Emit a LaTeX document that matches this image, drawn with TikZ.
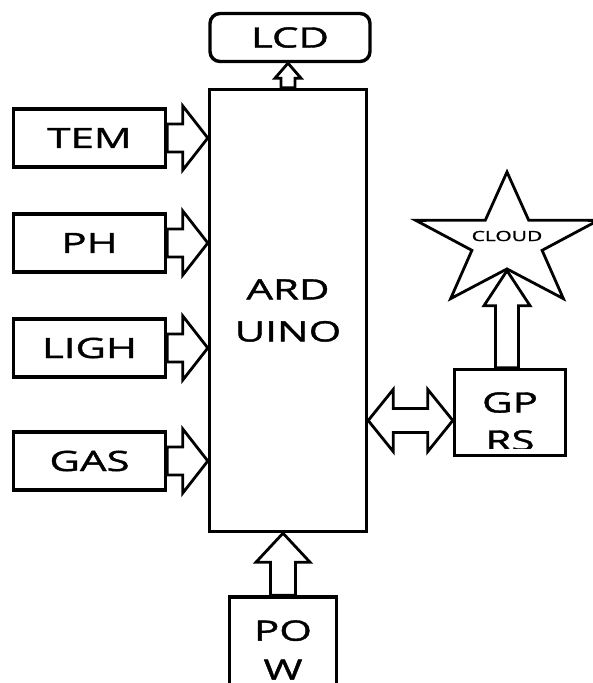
\documentclass[tikz,border=0pt]{standalone}
\usepackage{fontspec}
\setmainfont{Open Sans}[FakeStretch=1.5, FakeBold=1.4]
\usetikzlibrary{calc,shapes.geometric,backgrounds}

% block arrows: #1 base, #2 tip, #3 shaft half width, #4 head half width, #5 head length
\newcommand{\rightblock}[5]{%
  \draw[blk] ($(#1)+(0,-#3)$) -- ($(#2)+(-#5,-#3)$) -- ($(#2)+(-#5,-#4)$) -- (#2)
    -- ($(#2)+(-#5,#4)$) -- ($(#2)+(-#5,#3)$) -- ($(#1)+(0,#3)$) -- cycle;}
\newcommand{\upblock}[5]{%
  \draw[blk] ($(#1)+(-#3,0)$) -- ($(#2)+(-#3,#5)$) -- ($(#2)+(-#4,#5)$) -- (#2)
    -- ($(#2)+(#4,#5)$) -- ($(#2)+(#3,#5)$) -- ($(#1)+(#3,0)$) -- cycle;}

\begin{document}
\begin{tikzpicture}[
  x=1pt, y=-1pt,
  bigfont/.style={font=\fontsize{28}{42}\selectfont},
  sensor/.style={
    draw, line width=3.4pt, minimum width=152pt, minimum height=58pt,
    inner sep=0pt, bigfont
  },
  unit/.style={
    draw, line width=3.4pt, inner sep=0pt, align=center, bigfont
  },
  blk/.style={draw, fill=white, line width=2.8pt, line join=miter},
]
\useasboundingbox (0,0) rectangle (593,683);

%% Controller and display
\node[unit, minimum width=157pt, minimum height=442pt] (ard) at (288,310.5) {ARD\\UINO};
\node[unit, rounded corners=10pt, minimum width=160pt, minimum height=48pt] (lcd) at (290,37.5) {LCD};

%% Sensors on the left
\node[sensor] (tem)  at (89.5,138) {TEM};
\node[sensor] (ph)   at (89.5,243) {PH};
\node[sensor] (ligh) at (89.5,348) {LIGH};
\node[sensor] (gas)  at (89.5,461) {GAS};

%% Power supply (runs off the bottom edge)
\node[unit, minimum width=107pt, minimum height=106pt,
      font=\fontsize{28}{39}\selectfont] (pow) at (283,650) {PO\\W};

%% GPRS module, text clipped by the box
\node[unit, minimum width=111pt, minimum height=86pt] (gprs) at (510,412.5) {};
\begin{scope}
  \clip ($(gprs.north west)+(2,2)$) rectangle ($(gprs.south east)+(-2,-9)$);
  \node[align=center, font=\fontsize{28}{38}\selectfont] (gprstxt)
    at ($(gprs.center)+(0,9)$) {GP\\RS};
\end{scope}

%% Cloud star
\begin{scope}[shift={(507,242)}, xscale=1.37]
  \node[star, star points=5, star point ratio=2.6, minimum size=140pt,
        inner sep=0pt, draw, line width=2.8pt, transform shape] (cloud) {};
\end{scope}
\node[font=\fontsize{14}{16}\selectfont] (cloudtxt) at (507,236) {CLOUD};
\coordinate (cloudtip) at (cloud.inner point 3);
\coordinate (gpin) at ($(gprs.west)+(0,8)$);

%% Block arrows behind the boxes
\begin{scope}[on background layer]
  \rightblock{tem.east}{tem.east -| ard.west}{14}{32}{25}
  \rightblock{ph.east}{ph.east -| ard.west}{14}{32}{25}
  \rightblock{ligh.east}{ligh.east -| ard.west}{14}{32}{25}
  \rightblock{gas.east}{gas.east -| ard.west}{14}{32}{25}

  \upblock{ard.north}{ard.north |- lcd.south}{7}{13}{15}
  \upblock{pow.north}{pow.north |- ard.south}{12.5}{27}{29}
  \upblock{cloudtip |- gprs.north}{cloudtip}{11.5}{23}{35}

  % two-way link ARDUINO <-> GPRS
  \draw[blk] (ard.east |- gpin) -- ++(25,-31) -- ++(0,19) -- ($(gpin)+(-25,-12)$)
    -- ($(gpin)+(-25,-31)$) -- (gpin) -- ($(gpin)+(-25,31)$) -- ($(gpin)+(-25,12)$)
    -- ($(ard.east |- gpin)+(25,12)$) -- ($(ard.east |- gpin)+(25,31)$) -- cycle;
\end{scope}

\end{tikzpicture}
\end{document}
